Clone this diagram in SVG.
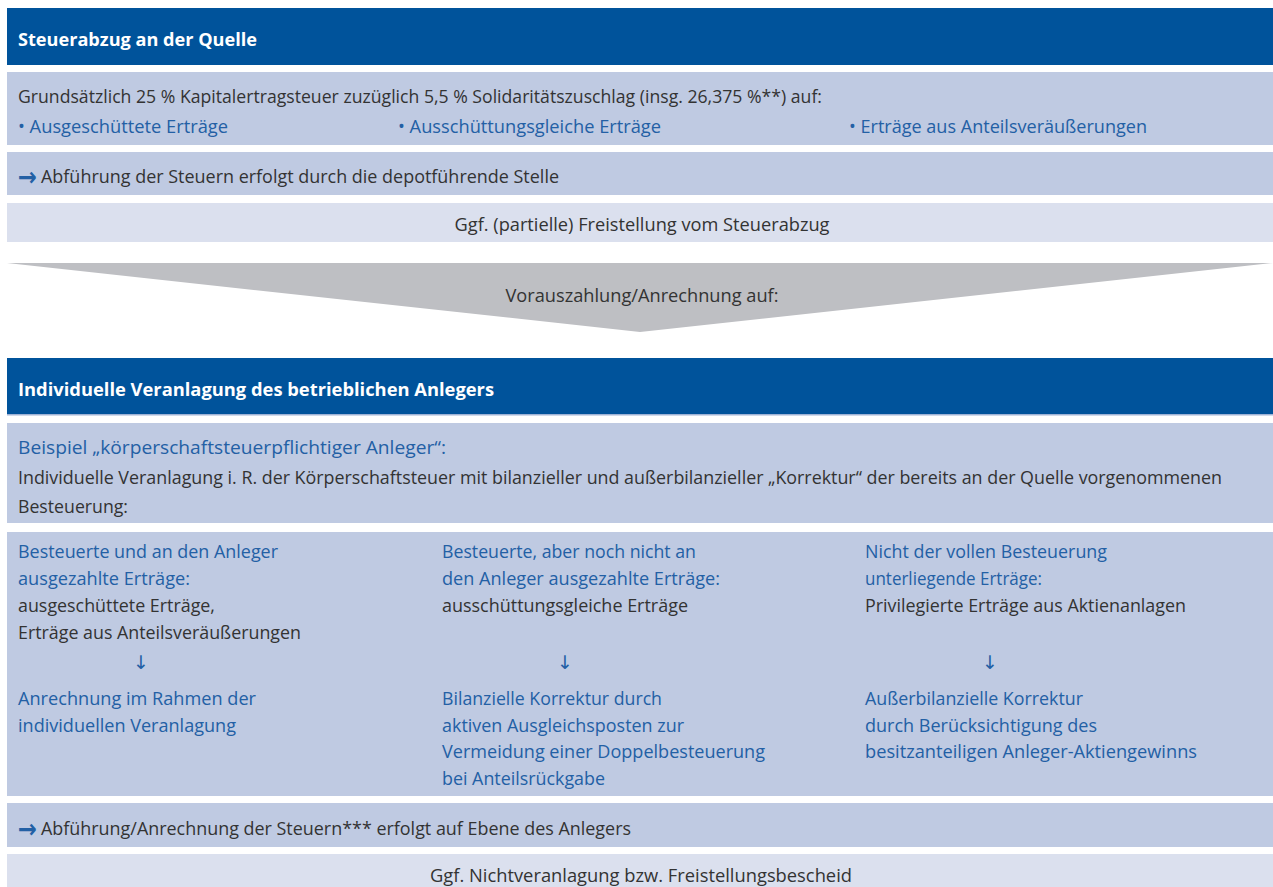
<svg xmlns="http://www.w3.org/2000/svg" width="1273" height="887" viewBox="0 0 1273 887">
<style>
text{font-family:"Open Sans","Liberation Sans",sans-serif;font-size:18px;fill:#333333}
.hd{fill:#00539b}
.hdt{fill:#ffffff;font-weight:bold}
.row{fill:#bfcae2}
.lrow{fill:#dbe0ee}
.b{fill:#2360a5}
.mid{text-anchor:middle}
.arr{fill:#bebfc3}
.ra{fill:#2360a5;font-family:"DejaVu Sans",sans-serif;font-weight:bold;font-size:26px}
.dn{fill:#2360a5;font-family:"DejaVu Sans",sans-serif;font-size:19px;text-anchor:middle}
</style>
<rect width="1273" height="887" fill="#ffffff"/>

<g id="header-quelle">
<rect class="hd" x="7" y="8" width="1266" height="57"/>
<text class="hdt" x="18" y="46" textLength="239" lengthAdjust="spacingAndGlyphs">Steuerabzug an der Quelle</text>
</g>

<g id="row-grundsaetzlich">
<rect class="row" x="7" y="72" width="1266" height="73"/>
<text x="18" y="103" textLength="804" lengthAdjust="spacingAndGlyphs">Grundsätzlich 25 % Kapitalertragsteuer zuzüglich 5,5 % Solidaritätszuschlag (insg. 26,375 %**) auf:</text>
<text class="b" x="18" y="133" textLength="210" lengthAdjust="spacingAndGlyphs">• Ausgeschüttete Erträge</text>
<text class="b" x="398" y="133" textLength="263" lengthAdjust="spacingAndGlyphs">• Ausschüttungsgleiche Erträge</text>
<text class="b" x="849" y="133" textLength="298" lengthAdjust="spacingAndGlyphs">• Erträge aus Anteilsveräußerungen</text>
</g>

<g id="row-abfuehrung-depot">
<rect class="row" x="7" y="152" width="1266" height="43"/>
<text class="ra" x="18" y="186" textLength="19" lengthAdjust="spacingAndGlyphs">→</text>
<text x="41" y="183" textLength="518" lengthAdjust="spacingAndGlyphs">Abführung der Steuern erfolgt durch die depotführende Stelle</text>
</g>

<g id="row-freistellung">
<rect class="lrow" x="7" y="203" width="1266" height="39"/>
<text class="mid" x="642" y="231" textLength="375" lengthAdjust="spacingAndGlyphs">Ggf. (partielle) Freistellung vom Steuerabzug</text>
</g>

<g id="header-veranlagung">
<rect class="hd" x="7" y="358" width="1266" height="57"/>
<rect x="7" y="414" width="1266" height="1.5" fill="#9fb3d6"/>
<text class="hdt" x="18" y="396" textLength="476" lengthAdjust="spacingAndGlyphs">Individuelle Veranlagung des betrieblichen Anlegers</text>
</g>

<g id="row-beispiel">
<rect class="row" x="7" y="423" width="1266" height="100"/>
<text class="b" x="18" y="454" textLength="428" lengthAdjust="spacingAndGlyphs">Beispiel „körperschaftsteuerpflichtiger Anleger“:</text>
<text x="18" y="484" textLength="1204" lengthAdjust="spacingAndGlyphs">Individuelle Veranlagung i. R. der Körperschaftsteuer mit bilanzieller und außerbilanzieller „Korrektur“ der bereits an der Quelle vorgenommenen</text>
<text x="18" y="513" textLength="110" lengthAdjust="spacingAndGlyphs">Besteuerung:</text>
</g>

<g id="col-ausgezahlt">
<rect class="row" x="7" y="532" width="424" height="264"/>
<text class="b" x="18" y="558" textLength="260" lengthAdjust="spacingAndGlyphs">Besteuerte und an den Anleger</text>
<text class="b" x="18" y="585" textLength="172" lengthAdjust="spacingAndGlyphs">ausgezahlte Erträge:</text>
<text x="18" y="612" textLength="197" lengthAdjust="spacingAndGlyphs">ausgeschüttete Erträge,</text>
<text x="18" y="639" textLength="283" lengthAdjust="spacingAndGlyphs">Erträge aus Anteilsveräußerungen</text>
<text class="b" x="18" y="705" textLength="238" lengthAdjust="spacingAndGlyphs">Anrechnung im Rahmen der</text>
<text class="b" x="18" y="732" textLength="218" lengthAdjust="spacingAndGlyphs">individuellen Veranlagung</text>
</g>

<g id="col-ausschuettungsgleich">
<rect class="row" x="431" y="532" width="423" height="264"/>
<text class="b" x="442" y="558" textLength="254" lengthAdjust="spacingAndGlyphs">Besteuerte, aber noch nicht an</text>
<text class="b" x="442" y="585" textLength="278" lengthAdjust="spacingAndGlyphs">den Anleger ausgezahlte Erträge:</text>
<text x="442" y="612" textLength="246" lengthAdjust="spacingAndGlyphs">ausschüttungsgleiche Erträge</text>
<text class="b" x="442" y="705" textLength="220" lengthAdjust="spacingAndGlyphs">Bilanzielle Korrektur durch</text>
<text class="b" x="442" y="732" textLength="242" lengthAdjust="spacingAndGlyphs">aktiven Ausgleichsposten zur</text>
<text class="b" x="442" y="758" textLength="323" lengthAdjust="spacingAndGlyphs">Vermeidung einer Doppelbesteuerung</text>
<text class="b" x="442" y="785" textLength="163" lengthAdjust="spacingAndGlyphs">bei Anteilsrückgabe</text>
</g>

<g id="col-privilegiert">
<rect class="row" x="854" y="532" width="419" height="264"/>
<text class="b" x="865" y="558" textLength="242" lengthAdjust="spacingAndGlyphs">Nicht der vollen Besteuerung</text>
<text class="b" x="865" y="585" textLength="177" lengthAdjust="spacingAndGlyphs">unterliegende Erträge:</text>
<text x="865" y="612" textLength="321" lengthAdjust="spacingAndGlyphs">Privilegierte Erträge aus Aktienanlagen</text>
<text class="b" x="865" y="705" textLength="218" lengthAdjust="spacingAndGlyphs">Außerbilanzielle Korrektur</text>
<text class="b" x="865" y="732" textLength="232" lengthAdjust="spacingAndGlyphs">durch Berücksichtigung des</text>
<text class="b" x="865" y="758" textLength="332" lengthAdjust="spacingAndGlyphs">besitzanteiligen Anleger-Aktiengewinns</text>
</g>

<g id="row-abfuehrung-anleger">
<rect class="row" x="7" y="803" width="1266" height="44"/>
<text class="ra" x="18" y="838" textLength="19" lengthAdjust="spacingAndGlyphs">→</text>
<text x="41" y="835" textLength="590" lengthAdjust="spacingAndGlyphs">Abführung/Anrechnung der Steuern*** erfolgt auf Ebene des Anlegers</text>
</g>

<g id="row-nichtveranlagung">
<rect class="lrow" x="7" y="854" width="1266" height="33"/>
<text class="mid" x="641" y="882" textLength="422" lengthAdjust="spacingAndGlyphs">Ggf. Nichtveranlagung bzw. Freistellungsbescheid</text>
</g>

<g id="connectors">
<polygon class="arr" points="7,263 1273,263 640,332"/>
<text class="mid" x="642" y="302" textLength="273" lengthAdjust="spacingAndGlyphs">Vorauszahlung/Anrechnung auf:</text>
<text class="dn" x="141" y="669">↓</text>
<text class="dn" x="565" y="669">↓</text>
<text class="dn" x="990" y="669">↓</text>
</g>
</svg>
